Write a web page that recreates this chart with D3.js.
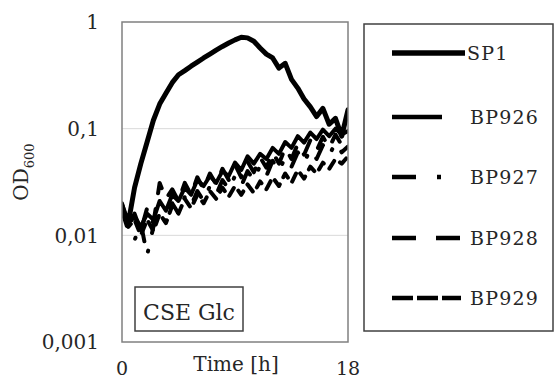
<!DOCTYPE html>
<html>
<head>
<meta charset="utf-8">
<script src="https://cdn.jsdelivr.net/npm/d3@7"></script>
<style>
  body { margin: 0; background: #fff; }
  text { font-family: "DejaVu Serif", serif; fill: #262626; }
</style>
</head>
<body>
<svg id="chart" width="555" height="379"></svg>
<script>
const hours = [0, 0.5, 1, 1.5, 2, 2.5, 3, 3.5, 4, 4.5, 5, 5.5, 6, 6.5, 7, 7.5, 8, 8.5, 9, 9.5,
  10, 10.5, 11, 11.5, 12, 12.5, 13, 13.5, 14, 14.5, 15, 15.5, 16, 16.5, 17, 17.5, 18];

const sp1 = [0.019, 0.013, 0.028, 0.047, 0.075, 0.12, 0.17, 0.215, 0.27, 0.32, 0.35, 0.385, 0.42,
  0.46, 0.5, 0.545, 0.59, 0.635, 0.68, 0.72, 0.71, 0.66, 0.57, 0.5, 0.46, 0.37, 0.41, 0.29, 0.24,
  0.19, 0.16, 0.13, 0.155, 0.11, 0.125, 0.085, 0.15];
const bp926 = [0.018, 0.013, 0.015, 0.012, 0.016, 0.014, 0.021, 0.017, 0.024, 0.021, 0.028, 0.024,
  0.033, 0.029, 0.036, 0.031, 0.04, 0.036, 0.048, 0.041, 0.055, 0.047, 0.058, 0.052, 0.066, 0.058,
  0.075, 0.066, 0.085, 0.074, 0.092, 0.08, 0.098, 0.085, 0.1, 0.088, 0.095];
const bp927 = [0.017, 0.011, 0.009, 0.013, 0.0065, 0.012, 0.017, 0.013, 0.02, 0.016, 0.023, 0.019,
  0.026, 0.021, 0.029, 0.024, 0.033, 0.027, 0.036, 0.029, 0.04, 0.033, 0.045, 0.036, 0.05, 0.04,
  0.054, 0.044, 0.06, 0.048, 0.064, 0.052, 0.07, 0.056, 0.074, 0.06, 0.068];
const bp928 = [0.02, 0.012, 0.016, 0.011, 0.018, 0.013, 0.031, 0.022, 0.027, 0.021, 0.031, 0.024,
  0.035, 0.027, 0.038, 0.03, 0.042, 0.033, 0.046, 0.035, 0.049, 0.039, 0.054, 0.043, 0.06, 0.047,
  0.066, 0.052, 0.072, 0.057, 0.078, 0.062, 0.084, 0.066, 0.088, 0.07, 0.075];
const bp929 = [0.019, 0.012, 0.014, 0.01, 0.014, 0.011, 0.016, 0.013, 0.019, 0.016, 0.022, 0.018,
  0.024, 0.02, 0.026, 0.022, 0.028, 0.023, 0.029, 0.024, 0.03, 0.025, 0.032, 0.027, 0.035, 0.029,
  0.038, 0.031, 0.041, 0.034, 0.044, 0.038, 0.048, 0.042, 0.052, 0.047, 0.055];

const seriesNames = ['SP1', 'BP926', 'BP927', 'BP928', 'BP929'];
const seriesValues = [sp1, bp926, bp927, bp928, bp929];
const yTicks = [0.001, 0.01, 0.1, 1];
const yTickLabels = ['0,001', '0,01', '0,1', '1'];
const xTicks = [0, 18];

// styling per series (not data)
const styles = [
  { width: 5, dash: null, legendLen: 73, legendDash: null, textX: 467 },
  { width: 4, dash: null, legendLen: 50, legendDash: null, textX: 470 },
  { width: 4, dash: '16,18,1,18', legendLen: 49, legendDash: '24,21,4,100', textX: 470 },
  { width: 4, dash: '16,16', legendLen: 68, legendDash: '24,20', textX: 470 },
  { width: 4, dash: '9,8', legendLen: 69, legendDash: '21,4', textX: 470 },
];

const svg = d3.select('#chart');
const plotLeft = 122, plotRight = 348, plotTop = 22, plotBottom = 342;

const x = d3.scaleLinear().domain([0, 18]).range([plotLeft, plotRight]);
const y = d3.scaleLog().domain([0.001, 1]).range([plotBottom, plotTop]);

// gridlines
svg.append('g')
  .selectAll('line')
  .data([0.01, 0.1])
  .enter()
  .append('line')
  .attr('x1', plotLeft).attr('x2', plotRight)
  .attr('y1', d => y(d)).attr('y2', d => y(d))
  .attr('stroke', '#d9d9d9')
  .attr('stroke-width', 1);

svg.append('clipPath').attr('id', 'clip')
  .append('rect')
  .attr('x', plotLeft).attr('y', plotTop)
  .attr('width', plotRight - plotLeft).attr('height', plotBottom - plotTop);

const line = d3.line()
  .x((d, i) => x(hours[i]))
  .y(d => y(d));

const plot = svg.append('g').attr('clip-path', 'url(#clip)');
// draw lower series first, SP1 last
[4, 3, 2, 1, 0].forEach(k => {
  plot.append('path')
    .attr('d', line(seriesValues[k]))
    .attr('fill', 'none')
    .attr('stroke', '#000')
    .attr('stroke-width', styles[k].width)
    .attr('stroke-linejoin', 'round')
    .attr('stroke-linecap', 'round')
    .attr('stroke-dasharray', styles[k].dash);
});

// plot frame
svg.append('rect')
  .attr('x', plotLeft).attr('y', plotTop)
  .attr('width', plotRight - plotLeft).attr('height', plotBottom - plotTop)
  .attr('fill', 'none')
  .attr('stroke', '#808080')
  .attr('stroke-width', 1.5);

// y tick labels
svg.append('g')
  .selectAll('text')
  .data(yTicks)
  .enter()
  .append('text')
  .attr('x', 99)
  .attr('y', d => y(d))
  .attr('dy', '0.36em')
  .attr('text-anchor', 'end')
  .style('font-size', '20px')
  .text((d, i) => yTickLabels[i]);

// x tick labels
svg.append('g')
  .selectAll('text')
  .data(xTicks)
  .enter()
  .append('text')
  .attr('x', d => x(d))
  .attr('y', 375)
  .attr('text-anchor', 'middle')
  .style('font-size', '19px')
  .text(d => d);

svg.append('text')
  .attr('x', 236)
  .attr('y', 371)
  .attr('text-anchor', 'middle')
  .style('font-size', '20px')
  .text('Time [h]');

// y axis title OD600
const yTitle = svg.append('text')
  .attr('transform', 'translate(28,172) rotate(-90)')
  .attr('text-anchor', 'middle')
  .style('font-size', '20px');
yTitle.append('tspan').text('OD');
yTitle.append('tspan').attr('dy', 6).style('font-size', '13px').text('600');

// CSE Glc label box
svg.append('rect')
  .attr('x', 135).attr('y', 287)
  .attr('width', 108).attr('height', 44)
  .attr('fill', '#fff')
  .attr('stroke', '#404040')
  .attr('stroke-width', 1.5);
svg.append('text')
  .attr('x', 189)
  .attr('y', 320)
  .attr('text-anchor', 'middle')
  .style('font-size', '22px')
  .text('CSE Glc');

// legend
const legendY = [53, 117, 177, 238, 298];
svg.append('rect')
  .attr('x', 364).attr('y', 24)
  .attr('width', 189).attr('height', 307)
  .attr('fill', 'none')
  .attr('stroke', '#404040')
  .attr('stroke-width', 1.5);

const items = svg.append('g')
  .selectAll('g')
  .data(seriesNames)
  .enter()
  .append('g');

items.append('line')
  .attr('x1', 392)
  .attr('x2', (d, i) => 392 + styles[i].legendLen)
  .attr('y1', (d, i) => legendY[i])
  .attr('y2', (d, i) => legendY[i])
  .attr('stroke', '#000')
  .attr('stroke-width', (d, i) => styles[i].width + 0.5)
  .attr('stroke-dasharray', (d, i) => styles[i].legendDash);

items.append('text')
  .attr('x', (d, i) => styles[i].textX)
  .attr('y', (d, i) => legendY[i])
  .attr('dy', '0.36em')
  .style('font-size', '19px')
  .style('letter-spacing', '1.2px')
  .text(d => d);
</script>
</body>
</html>
